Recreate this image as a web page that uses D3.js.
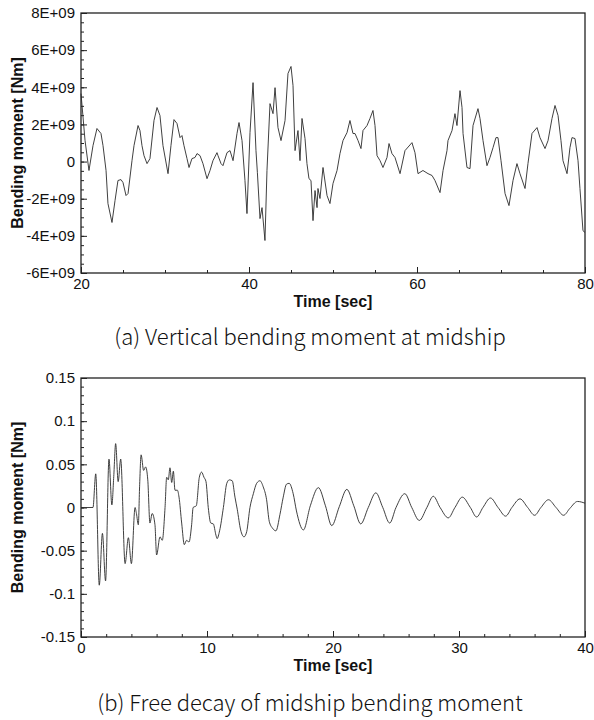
<!DOCTYPE html>
<html>
<head>
<meta charset="utf-8">
<title>Bending moment</title>
<style>
	body { margin: 0; background: #fff; }
	.tick text { font-family: 'Liberation Sans', Arial, sans-serif; font-size: 15px; fill: #111; }
	.tick line { stroke: #222; }
	.frame { fill: none; stroke: #222; stroke-width: 1.3px; }
	.series { fill: none; stroke: #2a2a2a; stroke-width: 0.9px; }
	.title { font-family: 'Liberation Sans', Arial, sans-serif; font-size: 16px; font-weight: bold; fill: #111; }
	.caption { font-family: 'Noto Sans CJK KR', 'Noto Sans', sans-serif; font-size: 22px; font-weight: 300; fill: #111; }
</style>
</head>
<body>
<script src="https://d3js.org/d3.v7.min.js"></script>
<script>
	'use strict';

	// (a) vertical bending moment, values in units of 1E+09 Nm
	const timeA = [20.0, 20.48, 20.95, 21.43, 21.9, 22.38, 22.62, 22.98, 23.21, 23.69, 24.05, 24.4, 24.76, 25.0, 25.36, 25.6,
		26.07, 26.31, 26.79, 27.02, 27.26, 27.5, 27.86, 28.21, 28.69, 29.05, 29.4, 29.76, 30.36, 30.71, 31.07, 31.43,
		31.79, 32.02, 32.26, 32.62, 32.86, 33.21, 33.57, 33.81, 34.17, 34.52, 35.0, 35.36, 35.71, 36.19, 36.31, 36.67,
		36.9, 37.38, 37.74, 38.1, 38.57, 38.81, 39.17, 39.52, 39.76, 40.12, 40.48, 40.83, 41.0, 41.31, 41.55, 41.9,
		42.14, 42.5, 42.86, 43.1, 43.45, 43.81, 44.29, 44.64, 45.0, 45.24, 45.48, 45.83, 46.07, 46.31, 46.67, 46.9,
		47.14, 47.38, 47.62, 47.86, 48.1, 48.21, 48.45, 48.81, 49.29, 49.64, 50.0, 50.48, 50.83, 51.19, 51.67, 52.02,
		52.38, 52.62, 52.98, 53.33, 53.57, 54.05, 54.4, 54.76, 55.0, 55.24, 55.6, 55.95, 56.43, 56.67, 57.02, 57.38,
		57.98, 58.57, 59.4, 59.76, 60.12, 60.71, 61.31, 61.79, 62.14, 62.74, 63.1, 63.57, 63.69, 64.17, 64.52, 64.76,
		65.12, 65.36, 65.48, 65.95, 66.31, 66.67, 67.26, 67.5, 67.86, 68.33, 68.69, 69.05, 69.4, 69.64, 70.0, 70.48,
		70.95, 71.43, 71.9, 72.26, 72.86, 73.21, 73.69, 74.29, 74.64, 75.24, 75.6, 76.07, 76.43, 76.79, 77.14, 77.38,
		77.86, 78.21, 78.45, 78.81, 79.17, 79.4, 79.76, 80.0];
	const momentA = [3.66, 1.13, -0.48, 0.86, 1.78, 1.51, 0.86, -0.48, -2.26, -3.28, -2.10, -1.02, -0.97, -1.13, -1.83, -1.72,
		0.05, 0.86, 1.94, 1.67, 0.86, 0.32, -0.11, 0.16, 2.21, 2.91, 2.48, 0.86, -0.65, 0.86, 2.26, 2.05,
		1.29, 1.40, 0.86, 0.16, -0.32, 0.16, 0.22, 0.43, 0.32, -0.11, -0.92, -0.48, 0.05, 0.48, 0.32, -0.11,
		-0.22, 0.48, 0.59, 0.05, 1.51, 2.10, 1.13, -1.02, -2.80, 1.56, 4.25, 0.59, -0.6, -3.07, -2.48, -4.25,
		-0.48, 3.12, 2.58, 3.98, 1.83, 1.13, 2.21, 4.74, 5.12, 4.09, 0.59, 1.67, 0.05, 2.32, 1.24, -0.11,
		-0.92, -1.02, -3.18, -1.56, -2.48, -1.45, -1.99, -0.32, -1.83, -2.26, -1.18, -0.48, 0.43, 1.13, 1.56, 2.21,
		1.51, 1.51, 1.13, 0.70, 1.67, 1.94, 2.32, 2.75, 1.94, 0.32, 0.05, -0.32, 0.22, 0.97, 0.43, 0.22,
		-0.65, 0.59, 1.02, 0.48, -0.65, -0.48, -0.65, -0.75, -1.02, -1.67, -0.48, 0.59, 1.13, 1.67, 2.58, 1.94,
		3.82, 2.91, 1.51, -0.32, -0.38, 1.94, 2.85, 2.32, 1.13, -0.22, 0.22, 0.75, 1.29, 1.29, 0.05, -1.72,
		-2.37, -1.02, -0.11, -0.65, -1.45, -0.11, 1.51, 1.83, 1.29, 0.70, 1.13, 2.32, 3.02, 2.48, 1.13, 0.05,
		-0.65, 0.75, 1.29, 1.24, 0.05, -1.45, -3.72, -3.82];

	// (b) free decay, values in Nm
	const timeB = [0, 0.95, 1.17, 1.45, 1.7, 1.95, 2.22, 2.45, 2.6, 2.75, 2.95, 3.15, 3.5, 3.76, 4.0, 4.29, 4.4, 4.55,
		4.65, 4.77, 4.97, 5.13, 5.3, 5.47, 5.65, 5.87, 6.0, 6.27, 6.45, 6.67, 6.8, 6.93, 7.06, 7.2, 7.33, 7.46,
		7.65, 7.78, 7.99, 8.2, 8.38, 8.57, 8.78, 8.9, 9.15, 9.39, 9.57, 9.76, 9.92, 10.1, 10.3, 10.5, 10.71, 10.8,
		11.0, 11.3, 11.57, 11.77, 12.0, 12.22, 12.4, 12.67, 12.94, 13.15, 13.41, 13.68, 13.94, 14.2, 14.46, 14.73,
		14.94, 15.2, 15.47, 15.79, 16.05, 16.31, 16.52, 16.84, 17.1, 17.65, 18.2, 18.84, 19.4, 19.9, 20.5, 21.1,
		21.65, 22.2, 22.8, 23.4, 23.95, 24.5, 25.0, 25.7, 26.25, 26.85, 27.45, 27.96, 28.5, 29.15, 29.68, 30.26,
		30.9, 31.4, 31.9, 32.5, 33.1, 33.7, 34.2, 34.84, 35.45, 36.0, 36.5, 37.1, 37.7, 38.3, 38.8, 39.4, 40.0];
	const momentB = [0, 0, 0.039, -0.09, -0.03, -0.085, 0.056, 0.003, 0.036, 0.074, 0.03, 0.056, -0.065, -0.035, -0.065, 0, -0.007, -0.02,
		0.024, 0.061, 0.043, 0.047, 0.032, -0.018, -0.007, -0.02, -0.055, -0.034, -0.038, 0, 0.035, 0.032, 0.046, 0.029, 0.042, 0.02,
		0.02, 0.012, -0.018, -0.043, -0.038, -0.04, -0.02, 0, 0.002, 0.035, 0.041, 0.035, 0.03, 0, -0.018, -0.019, -0.032, -0.036,
		-0.027, 0, 0.028, 0.032, 0.031, 0.012, -0.002, -0.026, -0.034, -0.028, 0, 0.016, 0.028, 0.031, 0.024, 0.009,
		-0.016, -0.024, -0.027, -0.008, 0.012, 0.027, 0.028, 0.016, -0.004, -0.026, 0.002, 0.023, 0.002, -0.021, 0.001, 0.021,
		0.002, -0.019, 0.0, 0.017, 0.0, -0.018, 0.0, 0.016, 0.0, -0.015, 0.0, 0.013, 0.0, -0.012, 0.0, 0.012,
		0.0, -0.011, 0.0, 0.011, 0.0, -0.01, 0.0, 0.01, 0.0, -0.009, 0.0, 0.009, 0.0, -0.009, -0.001, 0.007, 0.005];

	const yTicksA = [-6, -4, -2, 0, 2, 4, 6, 8];
	const yTickLabelsA = ['-6E+09', '-4E+09', '-2E+09', '0', '2E+09', '4E+09', '6E+09', '8E+09'];
	const xTicksA = [20, 40, 60, 80];
	const yTicksB = [-0.15, -0.1, -0.05, 0, 0.05, 0.1, 0.15];
	const yTickLabelsB = ['-0.15', '-0.1', '-0.05', '0', '0.05', '0.1', '0.15'];
	const xTicksB = [0, 10, 20, 30, 40];

	const svg = d3.select('body').append('svg')
		.attr('width', 594)
		.attr('height', 720);

	const left = 81, right = 585;

	function panel(cfg) {
		const x = d3.scaleLinear().domain(cfg.xDomain).range([left, right]);
		const y = d3.scaleLinear().domain(cfg.yDomain).range([cfg.bottom, cfg.top]);
		const g = svg.append('g');

		// minor ticks
		g.append('g')
			.attr('transform', 'translate(0,' + cfg.bottom + ')')
			.call(d3.axisBottom(x).tickValues(d3.range(cfg.xDomain[0], cfg.xDomain[1], cfg.xMinor)).tickSize(-3).tickFormat(''));
		g.append('g')
			.attr('transform', 'translate(' + left + ',0)')
			.call(d3.axisLeft(y).tickValues(d3.range(0, Math.round((cfg.yDomain[1] - cfg.yDomain[0]) / cfg.yMinor) + 1)
				.map(function(i) {return cfg.yDomain[0] + i * cfg.yMinor;})).tickSize(-3).tickFormat(''));

		// major ticks
		g.append('g')
			.attr('transform', 'translate(0,' + cfg.bottom + ')')
			.call(d3.axisBottom(x).tickValues(cfg.xTicks).tickSize(-6).tickPadding(5).tickFormat(d3.format('d')));
		g.append('g')
			.attr('transform', 'translate(' + left + ',0)')
			.call(d3.axisLeft(y).tickValues(cfg.yTicks).tickSize(-6).tickPadding(6)
				.tickFormat(function(d, i) {return cfg.yLabels[i];}));

		g.selectAll('.domain').remove();

		g.append('rect')
			.attr('class', 'frame')
			.attr('x', left)
			.attr('y', cfg.top)
			.attr('width', right - left)
			.attr('height', cfg.bottom - cfg.top);

		const line = d3.line()
			.x(function(d) {return x(d[0]);})
			.y(function(d) {return y(d[1]);})
			.curve(cfg.curve);

		g.append('path')
			.datum(d3.zip(cfg.times, cfg.values))
			.attr('class', 'series')
			.attr('d', line);

		g.append('text')
			.attr('class', 'title')
			.attr('text-anchor', 'middle')
			.attr('x', (left + right) / 2)
			.attr('y', cfg.bottom + 34)
			.text('Time [sec]');

		g.append('text')
			.attr('class', 'title')
			.attr('text-anchor', 'middle')
			.attr('transform', 'translate(23,' + ((cfg.top + cfg.bottom) / 2) + ') rotate(-90)')
			.text('Bending moment [Nm]');

		g.append('text')
			.attr('class', 'caption')
			.attr('text-anchor', 'middle')
			.attr('x', 310)
			.attr('y', cfg.bottom + cfg.captionGap)
			.text(cfg.caption);
	}

	panel({
		top: 13, bottom: 273,
		xDomain: [20, 80], yDomain: [-6, 8],
		xTicks: xTicksA, xMinor: 5,
		yTicks: yTicksA, yLabels: yTickLabelsA, yMinor: 0.5,
		times: timeA, values: momentA,
		curve: d3.curveLinear,
		captionGap: 72,
		caption: '(a) Vertical bending moment at midship'
	});

	panel({
		top: 378, bottom: 637,
		xDomain: [0, 40], yDomain: [-0.15, 0.15],
		xTicks: xTicksB, xMinor: 2,
		yTicks: yTicksB, yLabels: yTickLabelsB, yMinor: 0.01,
		times: timeB, values: momentB,
		curve: d3.curveMonotoneX,
		captionGap: 74,
		caption: '(b) Free decay of midship bending moment'
	});
</script>
</body>
</html>
